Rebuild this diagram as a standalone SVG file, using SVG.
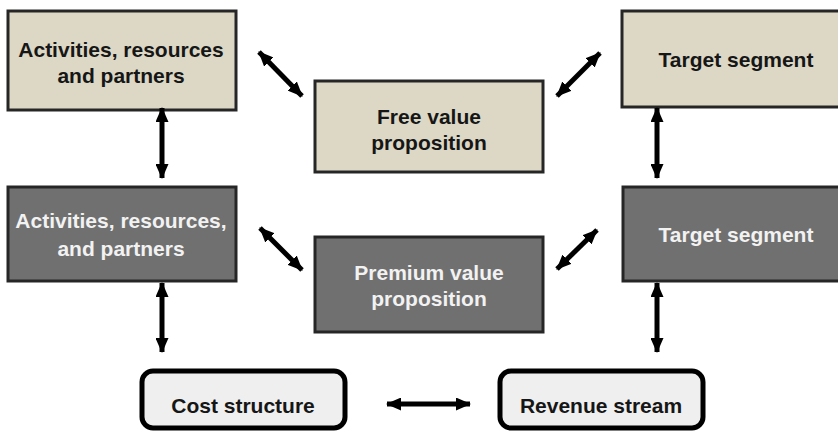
<svg xmlns="http://www.w3.org/2000/svg" width="838" height="431" viewBox="0 0 838 431">
  <style>
    .lbl { font-family: "Liberation Sans", Arial, sans-serif; font-weight: bold; font-size: 21px; text-anchor: middle; }
    .free { fill: #dcd8c5; stroke: #262626; stroke-width: 3; }
    .prem { fill: #707070; stroke: #262626; stroke-width: 3; }
    .base { fill: #efefef; stroke: #000; stroke-width: 5; }
    .dark { fill: #161616; }
    .light { fill: #f2f2f2; }
    .arrow { stroke: #000; stroke-width: 5; fill: none; marker-start: url(#head); marker-end: url(#head); }
  </style>
  <defs>
    <marker id="head" viewBox="0 0 15 13" refX="14" refY="6.5" markerWidth="15" markerHeight="13" markerUnits="userSpaceOnUse" orient="auto-start-reverse">
      <path d="M0,0 L15,6.5 L0,13 Z" fill="#000"/>
    </marker>
  </defs>
  <rect width="838" height="431" fill="#fff"/>

  <!-- free tier -->
  <g id="free-activities">
    <rect class="free" x="8" y="11" width="228" height="99"/>
    <text class="lbl dark" x="121" y="57">Activities, resources</text>
    <text class="lbl dark" x="121" y="83">and partners</text>
  </g>
  <g id="free-value">
    <rect class="free" x="315" y="81" width="228" height="91"/>
    <text class="lbl dark" x="429" y="124">Free value</text>
    <text class="lbl dark" x="429" y="150">proposition</text>
  </g>
  <g id="free-segment">
    <rect class="free" x="622" y="11" width="230" height="96"/>
    <text class="lbl dark" x="736" y="67">Target segment</text>
  </g>

  <!-- premium tier -->
  <g id="premium-activities">
    <rect class="prem" x="8" y="187" width="228" height="94"/>
    <text class="lbl light" x="121" y="228">Activities, resources,</text>
    <text class="lbl light" x="121" y="256">and partners</text>
  </g>
  <g id="premium-value">
    <rect class="prem" x="315" y="237" width="228" height="95"/>
    <text class="lbl light" x="429" y="280">Premium value</text>
    <text class="lbl light" x="429" y="306">proposition</text>
  </g>
  <g id="premium-segment">
    <rect class="prem" x="623" y="187" width="230" height="94"/>
    <text class="lbl light" x="736" y="242">Target segment</text>
  </g>

  <!-- financials -->
  <g id="cost-structure">
    <rect class="base" x="142" y="371" width="203" height="57" rx="11"/>
    <text class="lbl dark" x="243" y="413">Cost structure</text>
  </g>
  <g id="revenue-stream">
    <rect class="base" x="500" y="371" width="203" height="57" rx="11"/>
    <text class="lbl dark" x="601" y="413">Revenue stream</text>
  </g>

  <!-- connectors -->
  <g id="connectors">
    <line class="arrow" x1="162" y1="108" x2="162" y2="178"/>
    <line class="arrow" x1="162" y1="283" x2="162" y2="352"/>
    <line class="arrow" x1="657" y1="108" x2="657" y2="178"/>
    <line class="arrow" x1="657" y1="283" x2="657" y2="352"/>
    <line class="arrow" x1="259" y1="52" x2="302" y2="96"/>
    <line class="arrow" x1="557" y1="96" x2="600" y2="53"/>
    <line class="arrow" x1="260" y1="228" x2="302" y2="270"/>
    <line class="arrow" x1="557" y1="269" x2="597" y2="230"/>
    <line class="arrow" x1="387" y1="404" x2="470" y2="404"/>
  </g>
</svg>
